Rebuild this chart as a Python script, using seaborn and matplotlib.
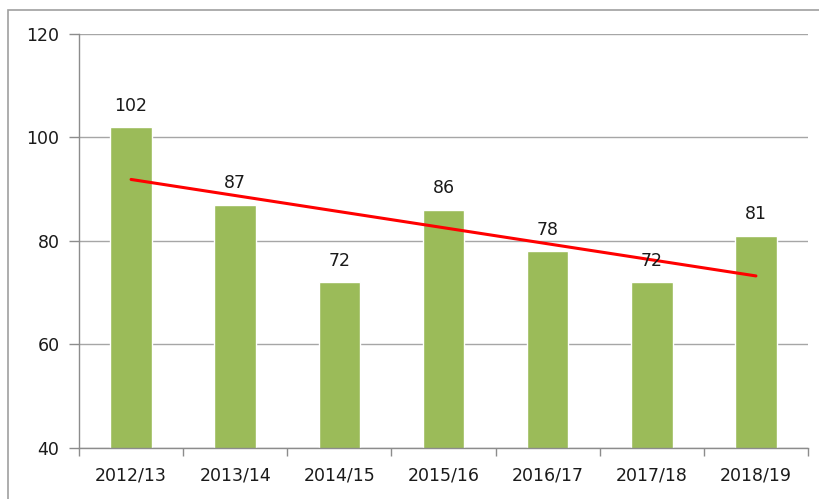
import matplotlib
matplotlib.use("Agg")
import matplotlib.pyplot as plt
import seaborn as sns
import numpy as np
import pandas as pd
from matplotlib.patches import Rectangle

seasons = ["2012/13", "2013/14", "2014/15", "2015/16", "2016/17", "2017/18", "2018/19"]
values = [102, 87, 72, 86, 78, 72, 81]
yticks = [40, 60, 80, 100, 120]

df = pd.DataFrame({"season": seasons, "value": values, "pos": np.arange(len(seasons))})

sns.set_theme(style="white")
plt.rcParams["font.family"] = ["DejaVu Sans"]

fig = plt.figure(figsize=(8.2, 4.99), dpi=100)
ax = fig.add_axes([79/820, 1-448/499, (808-79)/820, (448-34)/499])

sns.barplot(data=df, x="season", y="value", color="#9BBB59", saturation=1,
            width=0.4, ax=ax, zorder=2)
sns.regplot(data=df, x="pos", y="value", ci=None, scatter=False, truncate=True,
            line_kws={"color": "#FF0000", "lw": 2.2, "zorder": 3}, ax=ax)

for i, v in enumerate(values):
    ax.annotate(str(v), (i, v), xytext=(0, 9), textcoords="offset points",
                ha="center", va="bottom", fontsize=12.5, color="#1a1a1a", zorder=4)

ax.set_ylim(40, 120)
ax.set_xlim(-0.5, len(seasons) - 0.5)
ax.set_yticks(yticks)
ax.set_yticklabels([str(t) for t in yticks])
ax.set_xticks(np.arange(len(seasons)))
ax.set_xticklabels(seasons)
ax.set_xlabel("")
ax.set_ylabel("")

ax.yaxis.grid(True, color="#A6A6A6", lw=1.0, zorder=0)
ax.set_axisbelow(True)
for s in ["top", "right"]:
    ax.spines[s].set_visible(False)
for s in ["left", "bottom"]:
    ax.spines[s].set_color("#8C8C8C")
    ax.spines[s].set_linewidth(1.0)

ax.tick_params(axis="y", which="major", left=True, length=7, width=1, color="#8C8C8C",
               labelsize=12.5, labelcolor="#1a1a1a", pad=7)
ax.tick_params(axis="x", which="major", bottom=False, labelsize=12.5, labelcolor="#1a1a1a", pad=7)
# category boundary ticks on x axis
ax.set_xticks(np.arange(-0.5, len(seasons)), minor=True)
ax.tick_params(axis="x", which="minor", bottom=True, length=6, width=1, color="#8C8C8C")

fig.patches.append(Rectangle((8/820, -0.1), 1.2, 1 - 10/499 + 0.1, transform=fig.transFigure,
                             fill=False, edgecolor="#A0A0A0", lw=1.2))

fig.savefig("out.png", dpi=100)
